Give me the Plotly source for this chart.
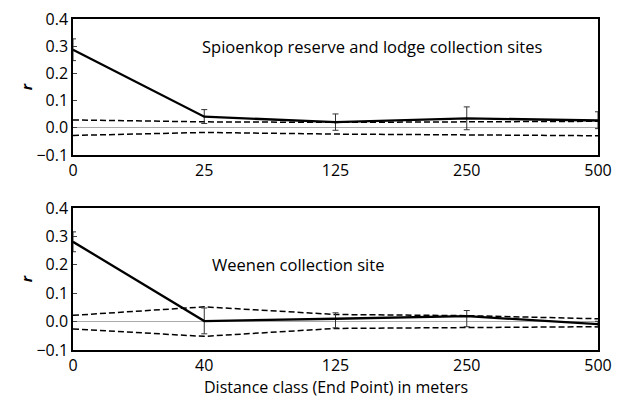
import plotly.graph_objects as go

# Top panel: Spioenkop reserve and lodge collection sites
top_classes = ["0", "25", "125", "250", "500"]
top_r = [0.287, 0.041, 0.021, 0.035, 0.027]
top_err_plus = [0.040, 0.026, 0.030, 0.042, 0.032]
top_err_minus = [0.040, 0.025, 0.030, 0.042, 0.030]
top_upper = [0.029, 0.022, 0.020, 0.023, 0.024]
top_lower = [-0.028, -0.017, -0.023, -0.027, -0.029]

# Bottom panel: Weenen collection site
bot_classes = ["0", "40", "125", "250", "500"]
bot_r = [0.281, 0.002, 0.010, 0.019, -0.009]
bot_err_plus = [0.035, 0.046, 0.021, 0.020, 0.010]
bot_err_minus = [0.035, 0.045, 0.032, 0.037, 0.010]
bot_upper = [0.022, 0.052, 0.025, 0.021, 0.010]
bot_lower = [-0.026, -0.052, -0.024, -0.022, -0.018]

y_ticks = [-0.1, 0.0, 0.1, 0.2, 0.3, 0.4]
FONT = "Open Sans"

fig = go.Figure()

def add_panel(classes, r, ep, em, up, lo, xref, yref):
    for band in (up, lo):
        fig.add_trace(go.Scatter(x=classes, y=band, mode="lines", xaxis=xref, yaxis=yref,
                                 line=dict(color="black", width=1.5, dash="6px,3px"),
                                 showlegend=False))
    fig.add_trace(go.Scatter(x=classes, y=r, mode="lines", xaxis=xref, yaxis=yref,
                             line=dict(color="black", width=2.3), showlegend=False,
                             error_y=dict(type="data", array=ep, arrayminus=em, symmetric=False,
                                          color="#333333", thickness=1, width=3)))

add_panel(top_classes, top_r, top_err_plus, top_err_minus, top_upper, top_lower, "x", "y")
add_panel(bot_classes, bot_r, bot_err_plus, bot_err_minus, bot_upper, bot_lower, "x2", "y2")

xcommon = dict(type="category", range=[0, 4], showgrid=False, zeroline=False, automargin=False,
               showline=True, linecolor="black", linewidth=1.5, mirror=True,
               ticks="", ticklabeloverflow="allow",
               tickfont=dict(family=FONT, size=16, color="black"))
ycommon = dict(range=[-0.1, 0.4], tickvals=y_ticks, tickformat=".1f", showgrid=False,
               automargin=False, ticklabeloverflow="allow",
               zeroline=True, zerolinecolor="#aaaaaa", zerolinewidth=1,
               showline=True, linecolor="black", linewidth=1.5, mirror=True,
               ticks="inside", ticklen=4, tickcolor="#444444",
               tickfont=dict(family=FONT, size=16, color="black"),
               title=dict(text="<b><i>r</i></b>", font=dict(family=FONT, size=15, color="black"),
                          standoff=0))

fig.update_layout(
    width=622, height=400,
    margin=dict(l=73, r=24, t=19, b=50),
    plot_bgcolor="white", paper_bgcolor="white",
    xaxis=dict(**xcommon, anchor="y"),
    yaxis=dict(**ycommon, domain=[0.589, 1.0], anchor="x"),
    xaxis2=dict(**xcommon, anchor="y2"),
    yaxis2=dict(**ycommon, domain=[0.0, 0.429], anchor="x2"),
    annotations=[
        dict(text="Spioenkop reserve and lodge collection sites", x=1, y=0.3, xref="x", yref="y",
             xanchor="left", yanchor="middle", showarrow=False, xshift=-4,
             font=dict(family=FONT, size=16.5, color="black")),
        dict(text="Weenen collection site", x=1, y=0.2, xref="x2", yref="y2",
             xanchor="left", yanchor="middle", showarrow=False, xshift=6,
             font=dict(family=FONT, size=16.5, color="black")),
        dict(text="Distance class (End Point) in meters", x=0.5, y=0, xref="paper", yref="paper",
             xanchor="center", yanchor="middle", yshift=-37, showarrow=False,
             font=dict(family=FONT, size=16, color="black")),
    ],
)

fig.write_html("out.html", config={"displayModeBar": False},
               post_script="document.body.style.margin='0';")
